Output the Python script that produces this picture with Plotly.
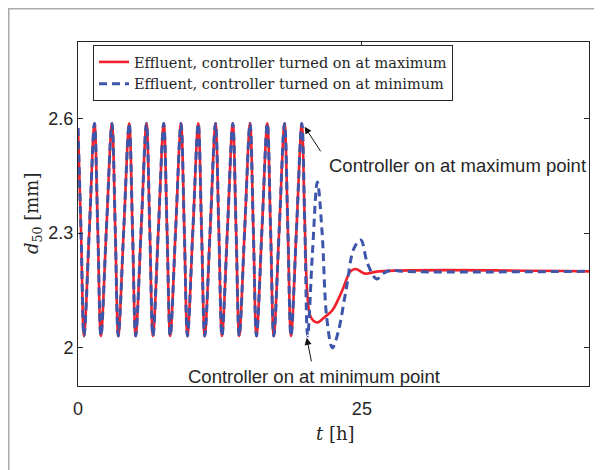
import plotly.graph_objects as go

# ---- data ----
# common oscillation (both series identical until the controller switches on)
t_osc = [0.0, 0.27, 0.53, 1.00, 1.45, 1.74, 2.02, 2.50, 2.99, 3.28, 3.55, 4.03, 4.51,
         4.80, 5.08, 5.56, 6.03, 6.32, 6.60, 7.08, 7.55, 7.84, 8.12, 8.60, 9.07,
         9.36, 9.64, 10.12, 10.59, 10.88, 11.16, 11.64, 12.11, 12.40, 12.68, 13.16, 13.63,
         13.92, 14.20, 14.68, 15.15, 15.44, 15.72, 16.20, 16.67, 16.96, 17.24, 17.72, 18.19,
         18.48, 18.76, 19.24, 19.71]
d_osc = [2.575, 2.30, 2.031, 2.31, 2.587, 2.31, 2.031, 2.31, 2.587, 2.31, 2.031, 2.31, 2.587,
         2.31, 2.031, 2.31, 2.587, 2.31, 2.031, 2.31, 2.587, 2.31, 2.031, 2.31, 2.587,
         2.31, 2.031, 2.31, 2.587, 2.31, 2.031, 2.31, 2.587, 2.31, 2.031, 2.31, 2.587,
         2.31, 2.031, 2.31, 2.587, 2.31, 2.031, 2.31, 2.587, 2.31, 2.031, 2.31, 2.587,
         2.31, 2.031, 2.31, 2.587]

# controller turned on at maximum (red)
t_red_tail = [19.95, 20.20, 20.50, 21.05, 21.70, 22.40, 23.27, 24.00, 24.45, 25.30, 26.50, 45.0]
d_red_tail = [2.35, 2.14, 2.08, 2.066, 2.08, 2.098, 2.15, 2.20, 2.206, 2.194, 2.20, 2.20]

# controller turned on at minimum (blue)
t_blue_tail = [19.98, 20.22, 20.65, 21.08, 21.50, 21.90, 22.40, 22.90, 23.60, 24.30, 24.90,
               25.50, 26.30, 26.90, 27.60, 28.50, 45.0]
d_blue_tail = [2.31, 2.031, 2.25, 2.434, 2.30, 2.08, 2.00, 2.04, 2.15, 2.26, 2.282,
               2.22, 2.18, 2.195, 2.203, 2.20, 2.20]

series_names = ["Effluent, controller turned on at maximum",
                "Effluent, controller turned on at minimum"]
x_tick_vals = [0, 25]
y_tick_vals = [2.0, 2.3, 2.6]
y_tick_text = ["2", "2.3", "2.6"]
x_range = [0, 45]
y_range = [1.9, 2.8]

t_red = t_osc + t_red_tail
d_red = d_osc + d_red_tail
t_blue = t_osc + t_blue_tail
d_blue = d_osc + d_blue_tail

# ---- layout geometry ----
# the page body adds an 8px offset, so figure coords = page coords - 8
OFF = 8
W, H = 602 - OFF, 470 - OFF
L, R, T, B = 78 - OFF, 589 - OFF, 42 - OFF, 386 - OFF
PW, PH = R - L, B - T


def px(x):  # page pixel x -> paper
    return (x - OFF - L) / PW


def py(y):  # page pixel y -> paper
    return (B - (y - OFF)) / PH


SANS = "Liberation Sans, Arial, sans-serif"
SERIF = "DejaVu Serif, serif"
AX = "#262626"

fig = go.Figure()
fig.add_trace(go.Scatter(x=t_red, y=d_red, mode="lines", name=series_names[0],
                         line=dict(color="#F2212B", width=2.6, shape="spline")))
fig.add_trace(go.Scatter(x=t_blue, y=d_blue, mode="lines", name=series_names[1],
                         line=dict(color="#3D55AA", width=3, dash="8px,5px", shape="spline")))

axis_common = dict(showgrid=False, zeroline=False, showline=True, mirror="ticks",
                   linecolor=AX, linewidth=1, ticks="inside", ticklen=5, tickcolor=AX,
                   tickfont=dict(family=SANS, size=18, color=AX))
fig.update_xaxes(range=x_range, tickvals=x_tick_vals, ticklabelstandoff=6, **axis_common)
fig.update_yaxes(range=y_range, tickvals=y_tick_vals, ticktext=y_tick_text, **axis_common)

annotations = [
    dict(xref="paper", yref="paper", x=px(335), y=py(433), text="<i>t</i> [h]",
         showarrow=False, font=dict(family=SERIF, size=18, color=AX),
         xanchor="center", yanchor="middle"),
    dict(xref="paper", yref="paper", x=px(33), y=py(214), text="<i>d</i><sub>50</sub> [mm]",
         showarrow=False, textangle=-90, font=dict(family=SERIF, size=18, color=AX),
         xanchor="center", yanchor="middle"),
    dict(xref="paper", yref="paper", x=px(327), y=py(165), text="Controller on at maximum point",
         showarrow=False, font=dict(family=SANS, size=18.5, color=AX),
         xanchor="left", yanchor="middle"),
    dict(xref="paper", yref="paper", x=px(314), y=py(376), text="Controller on at minimum point",
         showarrow=False, font=dict(family=SANS, size=18.5, color=AX),
         xanchor="center", yanchor="middle"),
    dict(xref="x", yref="y", x=19.96, y=2.578, text="", showarrow=True,
         ax=17, ay=26, arrowhead=2, arrowsize=1.4, arrowwidth=1, arrowcolor="#111111",
         standoff=0),
    dict(xref="x", yref="y", x=20.14, y=2.026, text="", showarrow=True,
         ax=5, ay=25, arrowhead=2, arrowsize=1.4, arrowwidth=1, arrowcolor="#111111",
         standoff=0),
]

shapes = [
    dict(type="rect", xref="paper", yref="paper", x0=px(8.75), x1=px(640), y0=py(520),
         y1=py(8.75), line=dict(color="#AAAAAA", width=1.5), layer="below"),
]

fig.update_layout(
    width=W, height=H, autosize=False,
    margin=dict(l=L, r=W - R, t=T, b=H - B, pad=0),
    paper_bgcolor="white", plot_bgcolor="white",
    showlegend=True,
    legend=dict(x=px(93), y=py(45), xanchor="left", yanchor="top",
                bgcolor="white", bordercolor=AX, borderwidth=1,
                font=dict(family=SERIF, size=14.5, color=AX), tracegroupgap=0),
    annotations=annotations, shapes=shapes,
)

fig.write_html("out.html")
